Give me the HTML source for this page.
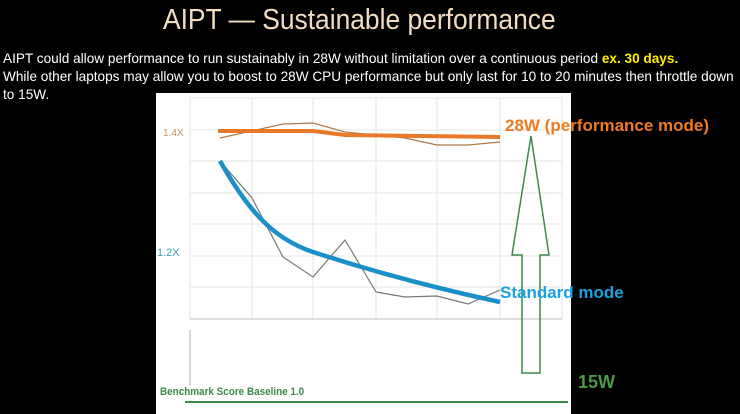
<!DOCTYPE html>
<html><head><meta charset="utf-8"><style>
body{margin:0;width:740px;height:414px;background:#000;overflow:hidden;position:relative;font-family:"Liberation Sans",sans-serif}
.t{position:absolute;white-space:nowrap}
</style></head><body>
<div class="t" style="left:163px;top:4px;font-size:29px;color:#f1dcc0;transform:scaleX(0.91);transform-origin:0 0">AIPT — Sustainable performance</div>
<div class="t" style="left:3px;top:49px;font-size:14px;color:#fff;line-height:18px;transform:scaleX(0.972);transform-origin:0 0">AIPT could allow performance to run sustainably in 28W without limitation over a continuous period <b style="color:#ffee00">ex. 30 days.</b><br>While other laptops may allow you to boost to 28W CPU performance but only last for 10 to 20 minutes then throttle down<br>to 15W.</div>
<svg width="740" height="414" style="position:absolute;left:0;top:0">
<rect x="156" y="93" width="415" height="321" fill="#fff"/>
<g stroke="#e4e4e4" stroke-width="1">
<line x1="190" y1="98" x2="190" y2="319"/><line x1="252" y1="98" x2="252" y2="319"/><line x1="313" y1="98" x2="313" y2="319"/><line x1="376" y1="98" x2="376" y2="319"/><line x1="437" y1="98" x2="437" y2="319"/><line x1="500" y1="98" x2="500" y2="319"/><line x1="562" y1="98" x2="562" y2="319"/>
<line x1="190" y1="98" x2="562" y2="98"/><line x1="190" y1="130" x2="562" y2="130"/><line x1="190" y1="161" x2="562" y2="161"/><line x1="190" y1="193" x2="562" y2="193"/><line x1="190" y1="224" x2="562" y2="224"/><line x1="190" y1="256" x2="562" y2="256"/><line x1="190" y1="287" x2="562" y2="287"/>
</g>
<line x1="190" y1="319" x2="562" y2="319" stroke="#bbb"/>
<line x1="190" y1="330" x2="190" y2="385" stroke="#aaa"/>
<polyline points="220,138 283,124 313,123 345,132 405,138 437,145 468,145 500,142" fill="none" stroke="#b07848" stroke-width="1.2"/>
<polyline points="218,131 313,131 345,135 500,137" fill="none" stroke="#e8782a" stroke-width="4"/>
<polyline points="220,161 252,198 283,257 313,277 345,240 376,292 405,297 437,296 468,304 500,290" fill="none" stroke="#777" stroke-width="1.2"/>
<path d="M220,161 C245,205 270,238 313,252 S420,285 500,302" fill="none" stroke="#1b8fc8" stroke-width="4.5"/>
<polygon points="531,136 549,255 540,255 540,373 522,373 522,255 512,255" fill="none" stroke="#3e8a4a" stroke-width="1.5"/>
<line x1="185" y1="402" x2="568" y2="402" stroke="#3e8a4a" stroke-width="2"/>
</svg>
<div class="t" style="left:163px;top:128px;font-size:10px;color:#c09060">1.4X</div>
<div class="t" style="left:157px;top:247px;font-size:11px;color:#3aa0b0">1.2X</div>
<div class="t" style="left:160px;top:386px;font-size:11px;color:#3e8a4a;font-weight:bold;transform:scaleX(0.9);transform-origin:0 0">Benchmark Score Baseline 1.0</div>
<div class="t" style="left:505px;top:116px;font-size:17px;color:#f07a20;font-weight:bold">28W (performance mode)</div>
<div class="t" style="left:500px;top:283px;font-size:17px;color:#1ba1e2;font-weight:bold">Standard mode</div>
<div class="t" style="left:578px;top:372px;font-size:18px;color:#4a9a4a;font-weight:bold">15W</div>
</body></html>
